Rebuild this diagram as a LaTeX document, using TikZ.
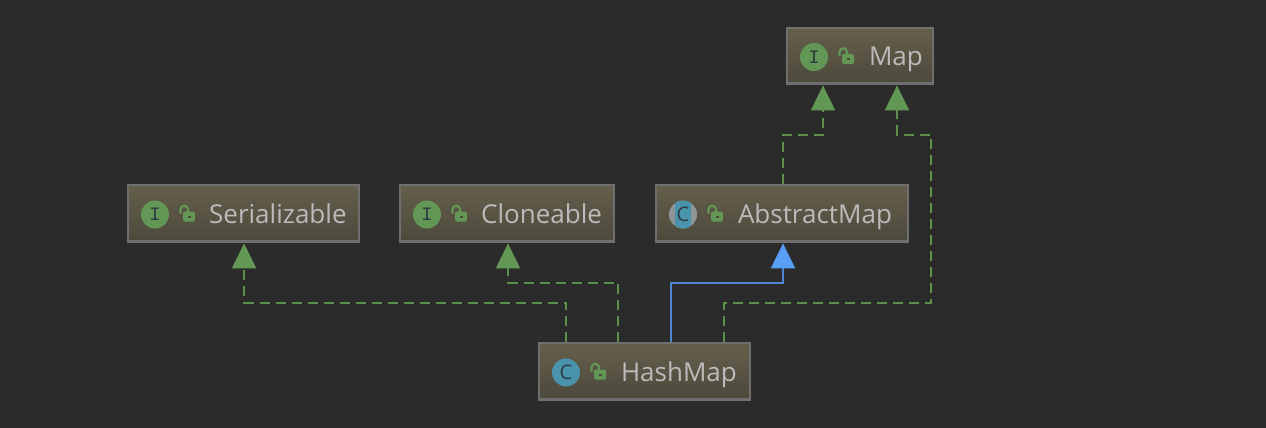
\documentclass[tikz,border=0pt]{standalone}
\usepackage{fontspec}
\setmainfont{Open Sans}
\newfontfamily\iconfont{Liberation Mono}
\usetikzlibrary{arrows.meta,calc}
\definecolor{bgc}{HTML}{2B2B2B}
\definecolor{boxtop}{HTML}{655E4C}
\definecolor{boxbot}{HTML}{4C493B}
\definecolor{boxedge}{HTML}{6F6F6F}
\definecolor{ifacegreen}{HTML}{629755}
\definecolor{linkgreen}{HTML}{5D8F4D}
\definecolor{classteal}{HTML}{4A93AC}
\definecolor{abstractgray}{HTML}{8D9599}
\definecolor{extblue}{HTML}{4E87D0}
\definecolor{tipblue}{HTML}{589DF6}
\definecolor{labelgray}{HTML}{BBBBBB}
\definecolor{icondark}{HTML}{2F3B40}
\tikzset{
  x=1pt,y=-1pt,
  umlbox/.style={draw=boxedge,line width=2pt,top color=boxtop,bottom color=boxbot,inner sep=0pt,anchor=north west},
  umlname/.style={text=labelgray,font=\fontsize{26}{30}\selectfont,inner sep=0pt,anchor=base west},
  iconI/.style={circle,fill=ifacegreen,minimum size=28pt,inner sep=0pt,text=icondark,font=\iconfont\fontsize{19}{20}\selectfont},
  iconC/.style={circle,fill=classteal,minimum size=28pt,inner sep=0pt,text=icondark,font=\fontsize{20}{20}\selectfont},
  iconA/.style={iconC,fill=abstractgray},
  iconletter/.style={inner sep=0pt,text=icondark,font=\fontsize{20}{20}\selectfont},
  implements/.style={draw=linkgreen,line width=2.2pt,dash pattern=on 10pt off 6pt,-{Triangle[length=25pt,width=24pt,color=ifacegreen]}},
  extends/.style={draw=extblue,line width=2.2pt,-{Triangle[length=25pt,width=24pt,color=tipblue]}},
}
% name, left, top, width, height, icon style, icon letter, text, text offset
\newcommand{\umlclass}[9]{%
  \node[umlbox,minimum width=#4pt,minimum height=#5pt] (#1) at (#2,#3) {};
  \fill[boxedge] ($(#1.south west)+(1,-3)$) rectangle ($(#1.south east)+(-1,0)$);
  \node[#6] (#1icon) at ($(#1.west)+(27.7,0.6)$) {#7};
  \node[inner sep=0pt,minimum size=0pt] (#1lock) at ($(#1.west)+(60.7,0.6)$) {};
  \fill[ifacegreen,rounded corners=1.5pt] ($(#1lock)+(-5,-3)$) rectangle ($(#1lock)+(7,7)$);
  \fill[boxbot] ($(#1lock)+(0,1)$) rectangle ($(#1lock)+(3,3)$);
  \draw[ifacegreen,line width=2.2pt] ($(#1lock)+(-7.5,-1)$) -- ++(0,-4) arc[start angle=180,end angle=360,radius=3.75] -- ++(0,3);
  \node[umlname] (#1name) at ($(#1.west)+(#9,9.6)$) {#8};
}
\begin{document}
\begin{tikzpicture}
\useasboundingbox (0,0) rectangle (1266,428);
\fill[bgc] (0,0) rectangle (1266,428);
\umlclass{map}{786.3}{27.4}{146}{56}{iconI}{I}{Map}{82.5}
\umlclass{ser}{127.3}{184.4}{231}{57}{iconI}{I}{Serializable}{81.7}
\umlclass{clo}{399.3}{184.4}{214}{57}{iconI}{I}{Cloneable}{81.7}
\umlclass{abs}{655.3}{184.4}{252}{57}{iconA}{}{AbstractMap}{82.5}
\begin{scope}
  \clip (absicon.center) circle[radius=14];
  \fill[classteal] ($(absicon.center)+(-8,-14)$) rectangle ($(absicon.center)+(8,14)$);
\end{scope}
\node[iconletter] (absletter) at (absicon.center) {C};
\umlclass{hm}{538.3}{342.4}{211}{57}{iconC}{C}{HashMap}{82.5}
\draw[implements] ([xshift=27.7pt]hm.north west) -- ++(0,-39.5) -| ([xshift=0.3pt]ser.south);
\draw[implements] ([xshift=79.7pt]hm.north west) -- ++(0,-59.5) -| ([xshift=0.7pt]clo.south);
\draw[extends] ([xshift=132.7pt]hm.north west) -- ++(0,-59.5) -| ([xshift=0.7pt]abs.south);
\draw[implements] ([xshift=185.7pt]hm.north west) -- ++(0,-39.5) -- ++(207,0) -- ++(0,-168) -| ([xshift=110.7pt]map.south west);
\draw[implements] ([xshift=0.7pt]abs.north) -- ++(0,-49.5) -| ([xshift=36.7pt]map.south west);
\end{tikzpicture}
\end{document}
